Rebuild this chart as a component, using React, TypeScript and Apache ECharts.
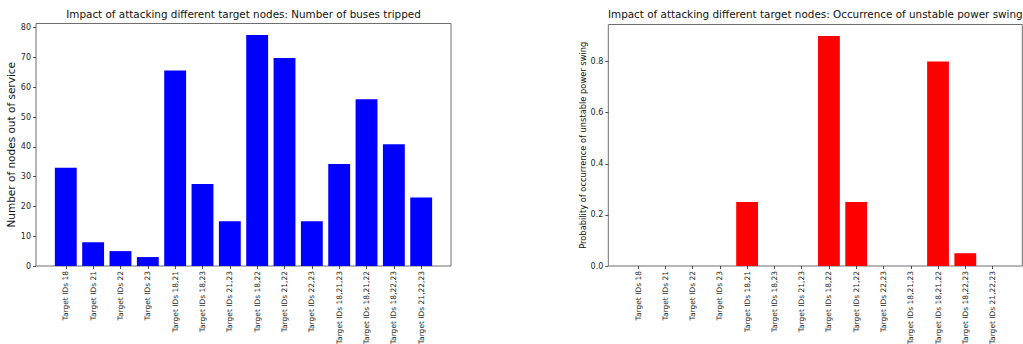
import React, { useEffect, useRef } from "react";
import * as echarts from "echarts";

const categories = [
  "Target IDs 18",
  "Target IDs 21",
  "Target IDs 22",
  "Target IDs 23",
  "Target IDs 18,21",
  "Target IDs 18,23",
  "Target IDs 21,23",
  "Target IDs 18,22",
  "Target IDs 21,22",
  "Target IDs 22,23",
  "Target IDs 18,21,23",
  "Target IDs 18,21,22",
  "Target IDs 18,22,23",
  "Target IDs 21,22,23",
];

const busesTripped = [33, 8, 5, 3, 65.6, 27.5, 15, 77.5, 69.8, 15, 34.2, 56, 40.9, 23];
const swingProbability = [0, 0, 0, 0, 0.25, 0, 0, 0.9, 0.25, 0, 0, 0.8, 0.05, 0];

const busTicks = [0, 10, 20, 30, 40, 50, 60, 70, 80];
const probTicks = [0, 0.2, 0.4, 0.6, 0.8];

const FONT = "DejaVu Sans";
const TICK_COLOR = "#262626";
const SPINE = "#6e6e6e";

// plot-area geometry (pixels)
const L = { left: 36, top: 23.5, width: 415, height: 242.5 };
const R = { left: 608.3, top: 24.5, width: 414, height: 241.5 };
// x-range padding on each side, in bar slots (matplotlib-style margins)
const padFrac = 1.09 / 15.18;

function barGridOf(g: { left: number; top: number; width: number; height: number }) {
  const pad = g.width * padFrac;
  const slot = g.width / 15.18;
  return { left: g.left + pad - slot / 2, top: g.top, width: slot * 14, height: g.height };
}

export default function App() {
  const ref = useRef<HTMLDivElement>(null);

  useEffect(() => {
    if (!ref.current) return;
    const chart = echarts.init(ref.current, undefined, { renderer: "svg" });
    const lb = barGridOf(L);
    const rb = barGridOf(R);
    const busMax = 81.4;
    const probMax = 0.945;

    const frameY = (
      max: number,
      ticks: number[],
      name: string,
      nameGap: number,
      nameSize: number,
      gridIndex: number,
      fmt: (v: number) => string
    ) => ({
      type: "value" as const,
      gridIndex,
      min: 0,
      max,
      name,
      nameLocation: "middle" as const,
      nameRotate: 90,
      nameGap,
      nameTextStyle: { fontFamily: FONT, fontSize: nameSize, color: "#111" },
      axisLine: { show: false },
      splitLine: { show: false },
      axisTick: { show: true, length: 3, customValues: ticks, lineStyle: { color: TICK_COLOR, width: 0.8 } },
      axisLabel: {
        show: true,
        customValues: ticks,
        margin: 5,
        fontFamily: FONT,
        fontSize: 8,
        color: TICK_COLOR,
        formatter: (v: number) => fmt(v),
      },
    });

    const hiddenY = (max: number, gridIndex: number) => ({
      type: "value" as const,
      gridIndex,
      min: 0,
      max,
      show: false,
    });

    const catX = (gridIndex: number) => ({
      type: "category" as const,
      gridIndex,
      data: categories,
      boundaryGap: true,
      axisLine: { show: false },
      axisTick: { show: true, alignWithLabel: true, length: 3, lineStyle: { color: TICK_COLOR, width: 0.8 } },
      axisLabel: {
        rotate: 90,
        interval: 0,
        margin: 5,
        fontFamily: FONT,
        fontSize: 7.5,
        color: TICK_COLOR,
      },
      splitLine: { show: false },
    });

    const frameX = (gridIndex: number) => ({
      type: "value" as const,
      gridIndex,
      min: 0,
      max: 1,
      show: false,
    });

    const gridBase = { containLabel: false, outerBoundsMode: "none" };

    chart.setOption({
      animation: false,
      backgroundColor: "#ffffff",
      title: [
        {
          text: "Impact of attacking different target nodes: Number of buses tripped",
          left: L.left + L.width / 2,
          textAlign: "center",
          top: 9,
          padding: 0,
          textStyle: { fontFamily: FONT, fontSize: 10.4, fontWeight: "normal", color: "#111" },
        },
        {
          text: "Impact of attacking different target nodes: Occurrence of unstable power swing",
          left: R.left + R.width / 2,
          textAlign: "center",
          top: 9,
          padding: 0,
          textStyle: { fontFamily: FONT, fontSize: 10.4, fontWeight: "normal", color: "#111" },
        },
      ],
      grid: [
        { ...L, ...gridBase, show: true, borderColor: SPINE, borderWidth: 1, backgroundColor: "transparent" },
        { ...lb, ...gridBase, show: false },
        { ...R, ...gridBase, show: true, borderColor: SPINE, borderWidth: 1, backgroundColor: "transparent" },
        { ...rb, ...gridBase, show: false },
      ],
      xAxis: [frameX(0), catX(1), frameX(2), catX(3)],
      yAxis: [
        frameY(busMax, busTicks, "Number of nodes out of service", 18, 10.5, 0, (v) => String(v)),
        hiddenY(busMax, 1),
        frameY(probMax, probTicks, "Probability of occurrence of unstable power swing", 20, 8.3, 2, (v) => v.toFixed(1)),
        hiddenY(probMax, 3),
      ],
      series: [
        {
          type: "bar",
          xAxisIndex: 1,
          yAxisIndex: 1,
          data: busesTripped,
          barWidth: "80%",
          itemStyle: { color: "#0000ff" },
        },
        {
          type: "bar",
          xAxisIndex: 3,
          yAxisIndex: 3,
          data: swingProbability,
          barWidth: "80%",
          itemStyle: { color: "#ff0000" },
        },
      ],
    });

    return () => chart.dispose();
  }, []);

  return (
    <div
      ref={ref}
      style={{ position: "fixed", left: 0, top: 0, width: 1023, height: 344, background: "#fff" }}
    />
  );
}
